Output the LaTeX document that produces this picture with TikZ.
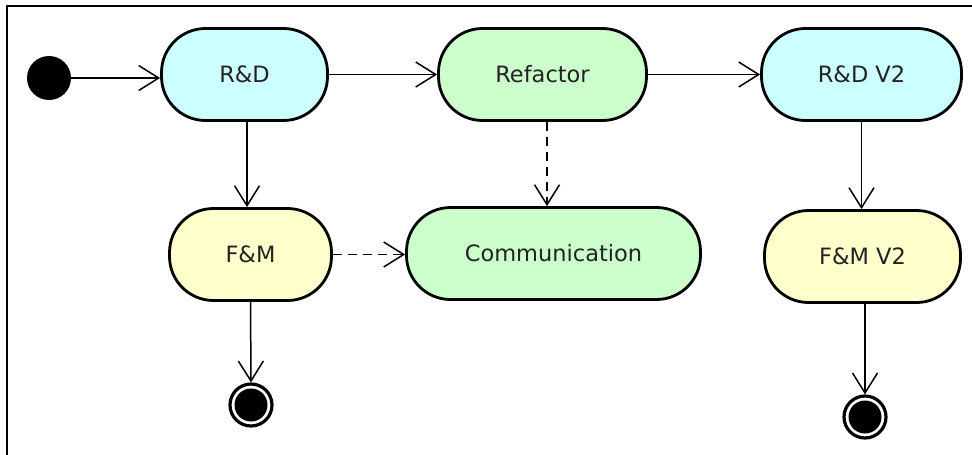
\documentclass[tikz,border=0pt]{standalone}
\usepackage{fontspec}
\setmainfont{DejaVu Sans}
\usetikzlibrary{arrows.meta,calc}
\definecolor{rdfill}{HTML}{CCFFFF}
\definecolor{rffill}{HTML}{CCFFCC}
\definecolor{fmfill}{HTML}{FFFFCC}
\definecolor{txt}{HTML}{222222}

\begin{document}
\begin{tikzpicture}[x=1pt,y=-1pt,
  act/.style={draw=black, line width=2.8pt, rounded corners=44pt,
    minimum height=92pt, inner sep=0pt,
    font=\fontsize{22.5}{26}\selectfont, text=txt},
  flow/.style={line width=1.5pt,
    -{Straight Barb[length=20pt,width=25pt,line width=1.5pt]}},
  dep/.style={flow, dash pattern=on 9pt off 6pt},
  initial/.style={circle, fill=black, minimum size=44pt, inner sep=0pt},
  final/.style={circle, draw=black, line width=3.2pt, fill=white,
    minimum size=42pt, inner sep=0pt}
]
\useasboundingbox (0,0) rectangle (972,455);

% frame
\draw[line width=2.5pt] (7,455) -- (7,6) -- (972,6);

% states
\node[initial] (start) at (49,78) {};
\node[act, fill=rdfill, minimum width=166pt] (rd)  at (244.5,74.5) {R\&D};
\node[act, fill=rffill, minimum width=208pt] (rf)  at (542.5,74.5) {Refactor};
\node[act, fill=rdfill, minimum width=200pt] (rd2) at (861.5,74.5) {R\&D V2};
\node[act, fill=fmfill, minimum width=162pt] (fm)  at (250.5,254.5) {F\&M};
\node[act, fill=rffill, minimum width=294pt] (cm)  at (553.5,253.5) {Communication};
\node[act, fill=fmfill, minimum width=196pt] (fm2) at (862.5,256.5) {F\&M V2};

\node[final] (end1) at (251,405) {};
\fill[black] (end1.center) circle (16.5pt);
\node[final] (end2) at (865,417) {};
\fill[black] (end2.center) circle (16.5pt);

% transitions
\draw[flow] (start) -- (start -| rd.west);
\draw[flow] (rd.east) -- (rf.west);
\draw[flow] (rf.east) -- (rd2.west);
\draw[flow] ($(rd.south)+(2.5,0)$) -- ($(rd.south |- fm.north)+(2.5,0)$);
\draw[flow] (rd2.south) -- (rd2.south |- fm2.north);
\draw[flow] (fm.south) -- (end1.north);
\draw[flow] (fm2.south -| end2.north) -- (end2.north);

% dependencies
\draw[dep] (fm.east) -- (fm.east -| cm.west);
\draw[dep] ($(rf.south)+(4.5,0)$) -- ($(rf.south |- cm.north)+(4.5,0)$);
\end{tikzpicture}
\end{document}
